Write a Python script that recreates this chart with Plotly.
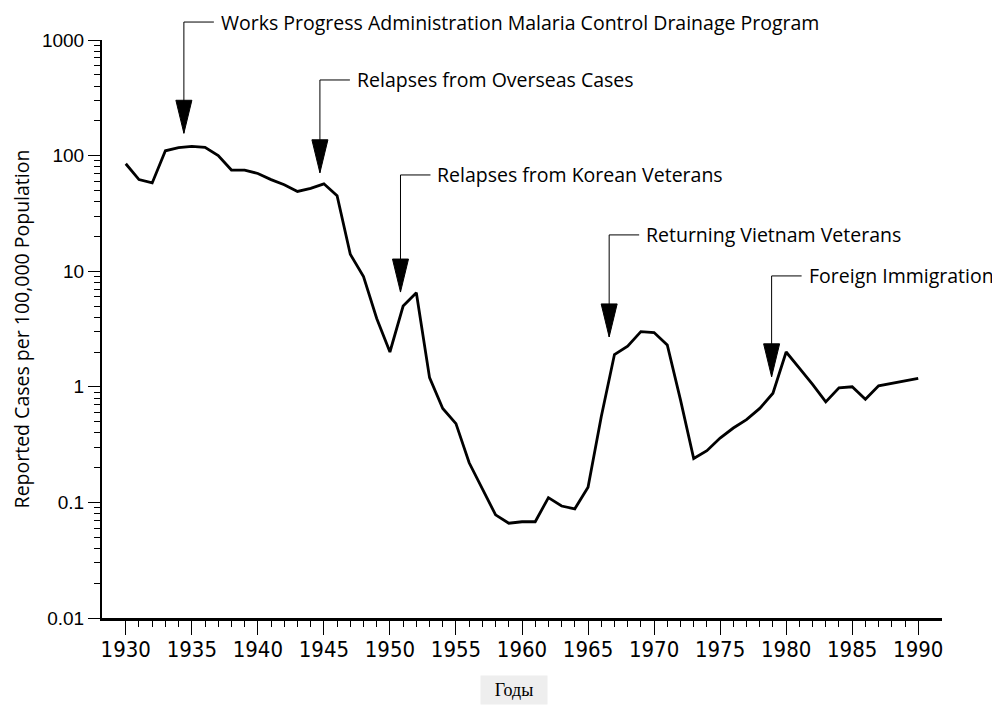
import numpy as np
import plotly.graph_objects as go

# reported malaria cases per 100,000 population, USA
years = list(range(1930, 1991))
rates = [85, 62, 58, 110, 117, 120, 118, 100, 75, 75,
         70, 62, 56, 49, 52, 57, 45, 14, 9.0, 3.9,
         2.0, 5.0, 6.5, 1.2, 0.65, 0.48, 0.22, 0.13, 0.078, 0.066,
         0.068, 0.068, 0.11, 0.093, 0.088, 0.135, 0.55, 1.9, 2.25, 3.0,
         2.95, 2.3, 0.77, 0.24, 0.28, 0.36, 0.44, 0.52, 0.65, 0.88,
         2.0, 1.45, 1.05, 0.74, 0.98, 1.0, 0.78, 1.02, 1.07, 1.13,
         1.18]

ev_text = ["Works Progress Administration Malaria Control Drainage Program",
           "Relapses from Overseas Cases",
           "Relapses from Korean Veterans",
           "Returning Vietnam Veterans",
           "Foreign Immigration"]
ev_year = [1934.4, 1944.7, 1950.8, 1966.6, 1978.9]
ev_tip = [156, 71, 6.6, 2.7, 1.22]       # value where arrow tip points
ev_label = [1430, 451, 68, 20.6, 9.1]     # value at label / leader elbow

yvals = [0.01, 0.1, 1, 10, 100, 1000]
ytext = ["0.01", "0.1", "1", "10", "100", "1000"]
xvals = list(range(1930, 1991, 5))
YR = [-2, 3]

def to_paper(v):
    return (np.log10(v) - YR[0]) / (YR[1] - YR[0])

fig = go.Figure()
fig.add_trace(go.Scatter(x=years, y=rates, mode="lines",
                         line=dict(color="black", width=2.8), hoverinfo="skip"))

shapes, anns = [], []
for t, x, tip, lab in zip(ev_text, ev_year, ev_tip, ev_label):
    py = to_paper(lab)
    shapes.append(dict(type="line", xref="x", yref="paper", x0=x, x1=x, y0=to_paper(tip), y1=py,
                       line=dict(color="black", width=1)))
    shapes.append(dict(type="line", xref="x", yref="paper", xsizemode="pixel", xanchor=x,
                       x0=0, x1=30, y0=py, y1=py, line=dict(color="black", width=1)))
    shapes.append(dict(type="path", xref="x", yref="y", xsizemode="pixel", ysizemode="pixel",
                       xanchor=x, yanchor=tip, path="M-8,33 L8,33 L0,0 Z",
                       fillcolor="black", line=dict(color="black", width=1)))
    anns.append(dict(x=x, y=py, xref="x", yref="paper", text=t, showarrow=False,
                     xanchor="left", yanchor="middle", xshift=35,
                     font=dict(family="Open Sans, sans-serif", size=19.5, color="black")))

anns.append(dict(x=0.49, y=-0.125, xref="paper", yref="paper", text="Годы", showarrow=False,
                 xanchor="center", yanchor="middle", width=64, height=26, bgcolor="#eeeeee",
                 font=dict(family="Liberation Serif, serif", size=18, color="black")))

fig.update_layout(
    width=992, height=698,
    margin=dict(l=88, r=58, t=32, b=88),
    plot_bgcolor="white", paper_bgcolor="white",
    showlegend=False,
    shapes=shapes, annotations=anns,
    xaxis=dict(range=[1928.2, 1991.8], tickmode="array", tickvals=xvals,
               showline=True, linecolor="black", linewidth=3, showgrid=False, zeroline=False,
               ticks="outside", ticklen=14, tickwidth=1, tickcolor="black",
               ticklabelstandoff=-4,
               minor=dict(tickmode="array", tickvals=years, ticks="outside", ticklen=6,
                          tickwidth=1, tickcolor="black", showgrid=False),
               tickfont=dict(family="DejaVu Sans Condensed, Liberation Sans Narrow, Liberation Sans, sans-serif",
                             size=22, color="black")),
    yaxis=dict(type="log", range=YR, tickmode="array", tickvals=yvals, ticktext=ytext,
               showline=True, linecolor="black", linewidth=2, showgrid=False, zeroline=False,
               ticks="outside", ticklen=12, tickwidth=1, tickcolor="black",
               minor=dict(dtick="D1", ticks="outside", ticklen=6, tickwidth=1,
                          tickcolor="black", showgrid=False),
               tickfont=dict(family="Liberation Sans, Arial, sans-serif", size=19, color="black"),
               title=dict(text="Reported Cases per 100,000 Population", standoff=8,
                          font=dict(family="Open Sans, sans-serif", size=19.5, color="black"))),
)

fig.write_html("out.html")
